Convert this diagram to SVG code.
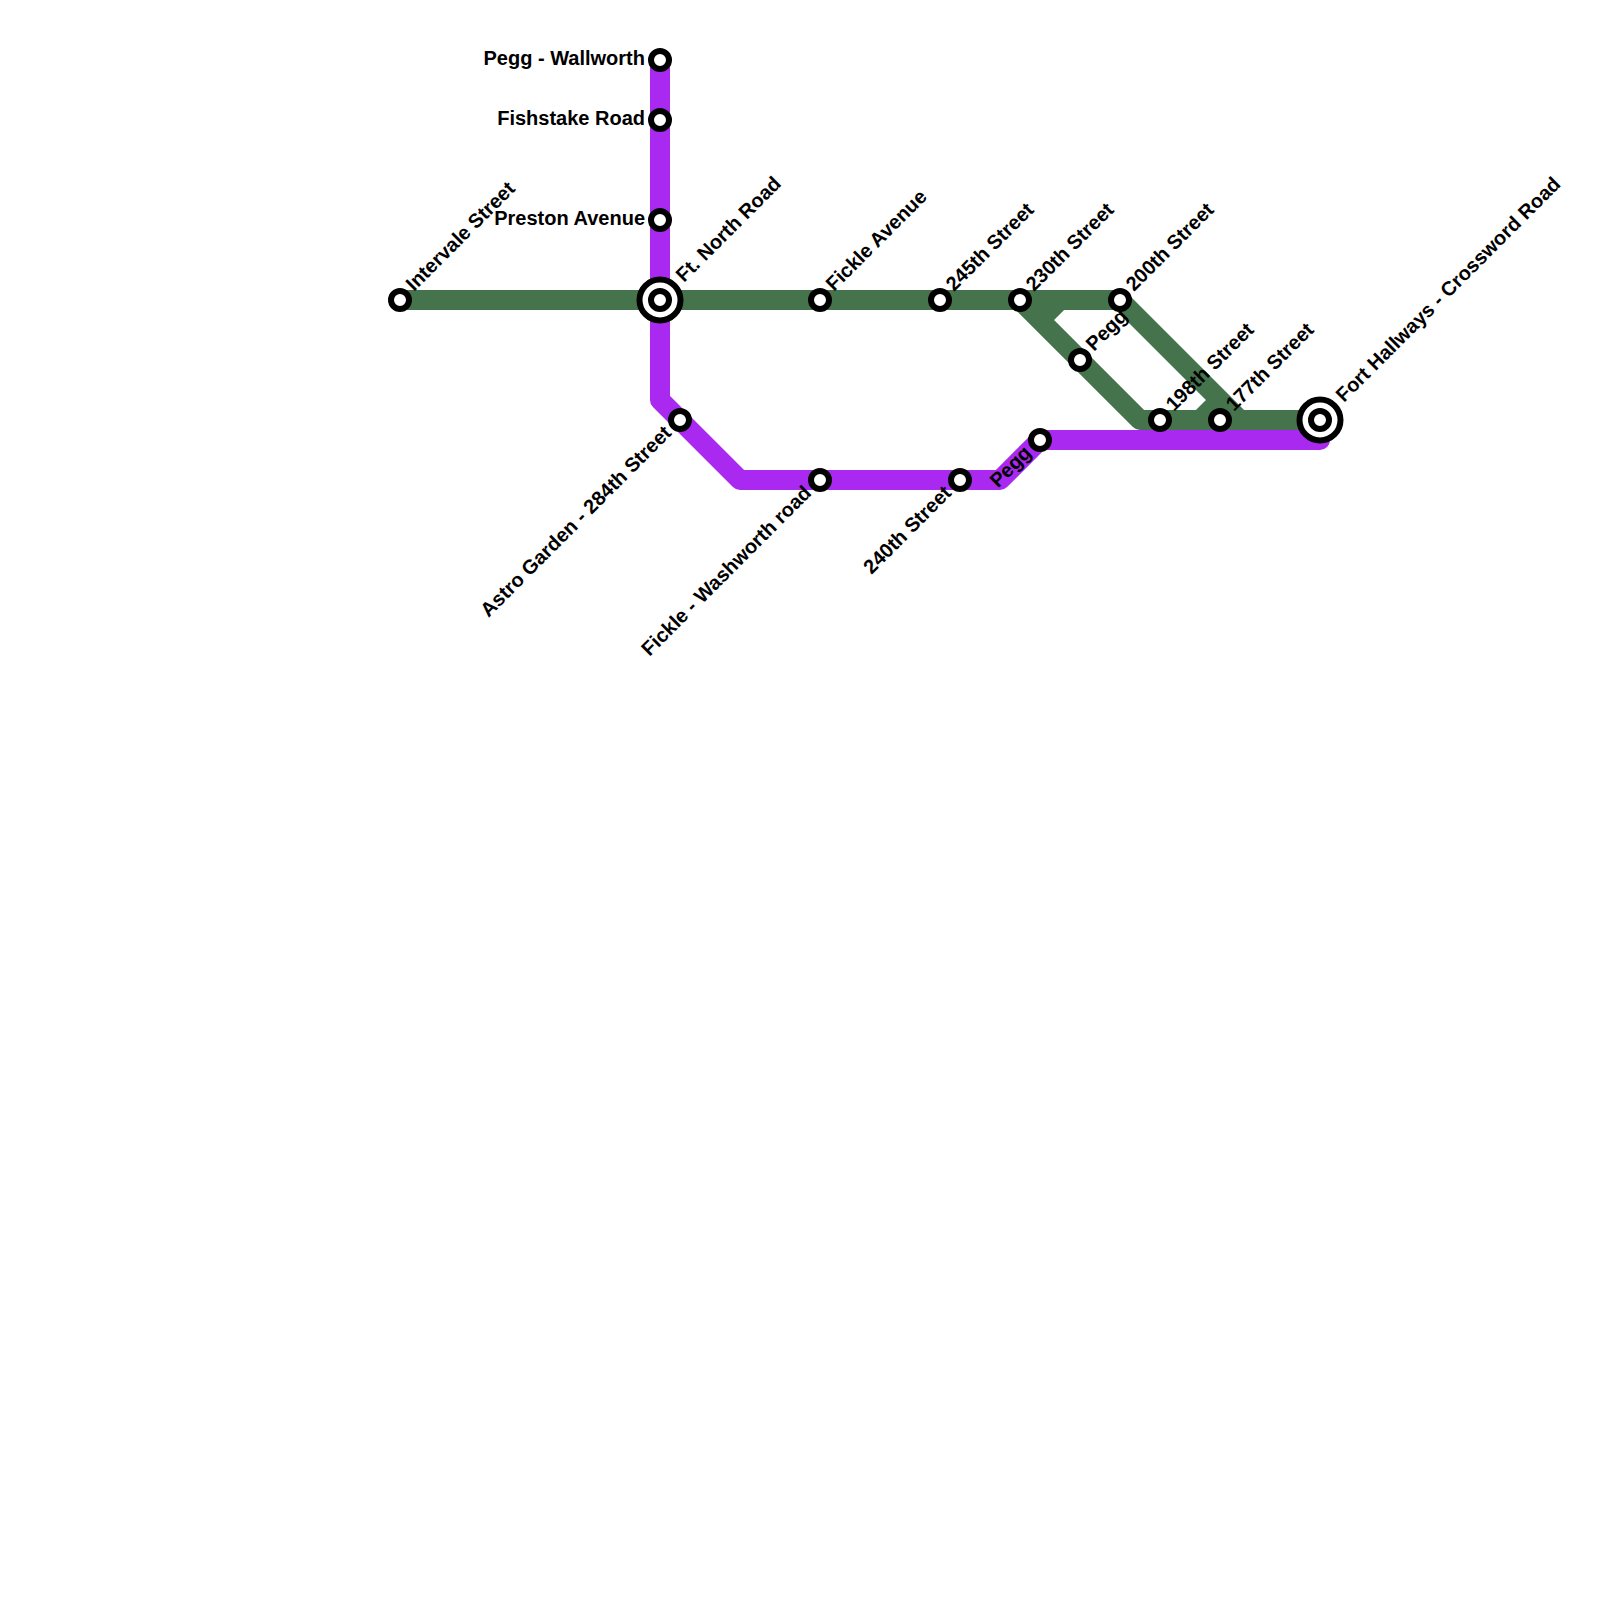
<svg xmlns="http://www.w3.org/2000/svg" width="1600" height="1600" viewBox="0 0 1600 1600">
<style>
.l{fill:none;stroke-width:20;stroke-linejoin:round;stroke-linecap:round}
.g{stroke:#44734c}
.p{stroke:#aa29f0}
.s{fill:#fff;stroke:#000;stroke-width:6}
.r{fill:#fff;stroke:#000;stroke-width:6}
text{font-family:"Liberation Sans",Arial,sans-serif;font-size:20px;font-weight:700;fill:#000}
.e{text-anchor:end}
</style>
<rect width="1600" height="1600" fill="#fff"/>
<g id="connectors">
<path class="l p" d="M660 60V400L740 480H1000L1040 440H1320"/>
<path class="l g" d="M400 300H1120L1240 420M1020 300L1140 420H1320M1040 320L1060 300M1200 420L1220 400"/>
</g>
<g id="n1"><circle class="s" cx="660" cy="60" r="9"/><text class="e" x="645" y="65">Pegg - Wallworth</text></g>
<g id="n2"><circle class="s" cx="660" cy="120" r="9"/><text class="e" x="645" y="125">Fishstake Road</text></g>
<g id="n3"><circle class="s" cx="660" cy="220" r="9"/><text class="e" x="645" y="225">Preston Avenue</text></g>
<g id="n4"><circle class="r" cx="660" cy="300" r="20.5"/><circle class="s" cx="660" cy="300" r="9"/><text transform="translate(684 283) rotate(-45)">Ft. North Road</text></g>
<g id="n5"><circle class="s" cx="400" cy="300" r="9"/><text transform="translate(414 292) rotate(-45)">Intervale Street</text></g>
<g id="n6"><circle class="s" cx="820" cy="300" r="9"/><text transform="translate(834 292) rotate(-45)">Fickle Avenue</text></g>
<g id="n7"><circle class="s" cx="940" cy="300" r="9"/><text transform="translate(954 292) rotate(-45)">245th Street</text></g>
<g id="n8"><circle class="s" cx="1020" cy="300" r="9"/><text transform="translate(1034 292) rotate(-45)">230th Street</text></g>
<g id="n9"><circle class="s" cx="1120" cy="300" r="9"/><text transform="translate(1134 292) rotate(-45)">200th Street</text></g>
<g id="n10"><circle class="s" cx="1080" cy="360" r="9"/><text transform="translate(1094 352) rotate(-45)">Pegg</text></g>
<g id="n11"><circle class="s" cx="1160" cy="420" r="9"/><text transform="translate(1174 412) rotate(-45)">198th Street</text></g>
<g id="n12"><circle class="s" cx="1220" cy="420" r="9"/><text transform="translate(1234 412) rotate(-45)">177th Street</text></g>
<g id="n13"><circle class="r" cx="1320" cy="420" r="20.5"/><circle class="s" cx="1320" cy="420" r="9"/><text transform="translate(1344 403) rotate(-45)">Fort Hallways - Crossword Road</text></g>
<g id="n14"><circle class="s" cx="680" cy="420" r="9"/><text class="e" transform="translate(672.5 434) rotate(-45)">Astro Garden - 284th Street</text></g>
<g id="n15"><circle class="s" cx="820" cy="480" r="9"/><text class="e" transform="translate(812.5 494) rotate(-45)">Fickle - Washworth road</text></g>
<g id="n16"><circle class="s" cx="960" cy="480" r="9"/><text class="e" transform="translate(952.5 494) rotate(-45)">240th Street</text></g>
<g id="n17"><circle class="s" cx="1040" cy="440" r="9"/><text class="e" transform="translate(1032.5 454) rotate(-45)">Pegg</text></g>
</svg>
